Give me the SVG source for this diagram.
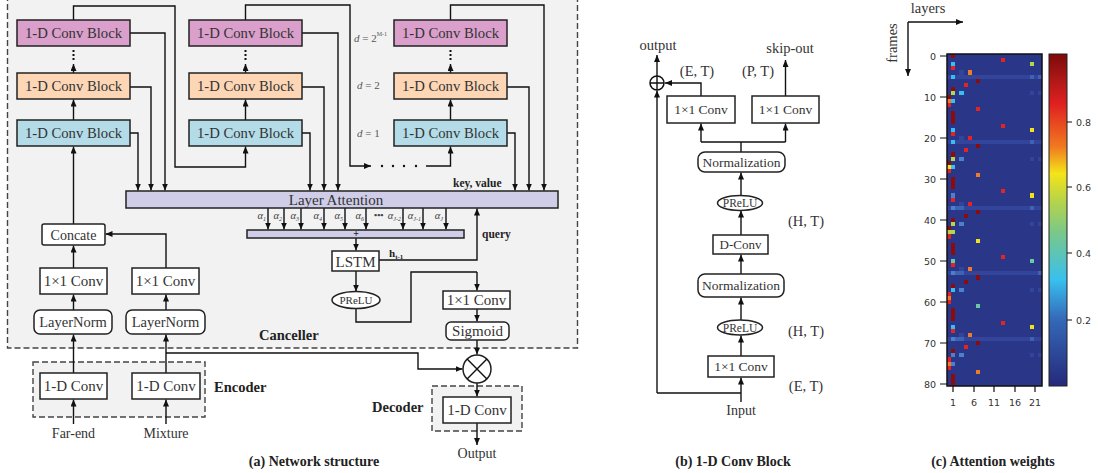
<svg xmlns="http://www.w3.org/2000/svg" width="1098" height="473" viewBox="0 0 1098 473">
<defs>
<marker id="ah" markerWidth="8" markerHeight="8" refX="7" refY="3" orient="auto" markerUnits="userSpaceOnUse"><path d="M0,0 L7,3 L0,6 z" fill="#111"/></marker>
<linearGradient id="cb" x1="0" y1="0" x2="0" y2="1">
<stop offset="0" stop-color="#7d0a0a"/><stop offset="0.08" stop-color="#b01818"/><stop offset="0.15" stop-color="#e02020"/><stop offset="0.28" stop-color="#f07a20"/><stop offset="0.36" stop-color="#f4e418"/><stop offset="0.44" stop-color="#b8d448"/><stop offset="0.54" stop-color="#78c88a"/><stop offset="0.68" stop-color="#38c0ee"/><stop offset="0.80" stop-color="#3468b8"/><stop offset="1" stop-color="#26297a"/>
</linearGradient>
</defs>
<style>
.t{font-family:"Liberation Serif","Times New Roman",serif;fill:#333}
.b{font-family:"Liberation Serif","Times New Roman",serif;font-weight:bold;fill:#222}
.m{font-family:"DejaVu Sans",sans-serif;font-size:9.5px;fill:#333}
.box{stroke:#222;stroke-width:1.5}
.dash{fill:#f2f2f2;stroke:#444;stroke-width:1.4;stroke-dasharray:6 3}
.w{fill:#fff;stroke:#222;stroke-width:1.5}
.ln{fill:none;stroke:#111;stroke-width:1.4}
.ar{fill:none;stroke:#111;stroke-width:1.4;marker-end:url(#ah)}
.pk{fill:#da9fcb}.pc{fill:#fdd6b6}.bl{fill:#b3dce8}.la{fill:#cfcde8}
.cb{font-size:14.7px}
</style>
<rect id="canceller" x="7.5" y="-10" width="570" height="358" class="dash"/>
<rect id="encoder" x="33" y="362" width="172" height="55" class="dash"/>
<rect id="decoder" x="432" y="386" width="90" height="45" class="dash"/>

<g id="connectors">
<path class="ar" d="M73.5,120 V99.5"/><path class="ar" d="M73.5,73 V64"/>
<path class="ar" d="M245.5,120 V99.5"/><path class="ar" d="M245.5,73 V64"/>
<path class="ar" d="M450.5,120 V99.5"/><path class="ar" d="M450.5,73 V64"/>
<path d="M73.5,50 V61 M245.5,50 V61 M450.5,50 V61" stroke="#111" stroke-width="2" stroke-dasharray="2 2"/>
<path class="ar" d="M73.5,20 V6 H175 V167 H245.5 V146.5"/>
<path class="ar" d="M245.5,20 V5 H350 V166 H371"/>
<path class="ar" d="M426,166 H450.5 V146.5"/>
<path class="ar" d="M450.5,20 V5 H544 V190.5"/>
<path class="ar" d="M130,133 H138 V190.5"/>
<path class="ar" d="M130,87 H151 V190.5"/>
<path class="ar" d="M130,33 H165 V190.5"/>
<path class="ar" d="M302,133 H310 V190.5"/>
<path class="ar" d="M302,87 H324 V190.5"/>
<path class="ar" d="M302,33 H338 V190.5"/>
<path class="ar" d="M507,133 H515 V190.5"/>
<path class="ar" d="M507,87 H529 V190.5"/>
<path class="ar" d="M268,208 V229.5"/><path class="ar" d="M284,208 V229.5"/><path class="ar" d="M301,208 V229.5"/><path class="ar" d="M324,208 V229.5"/><path class="ar" d="M345,208 V229.5"/><path class="ar" d="M366,208 V229.5"/><path class="ar" d="M403,208 V229.5"/><path class="ar" d="M423,208 V229.5"/><path class="ar" d="M446,208 V229.5"/>
<path class="ar" d="M356,238 V250.5"/>
<path class="ar" d="M379,260 H477 V208.5"/>
<path class="ar" d="M356,271 V291.5"/>
<path class="ln" d="M356,308 V322 H411 V272 H477"/>
<path class="ar" d="M477,272 V290.5"/>
<path class="ar" d="M477,309 V321.5"/>
<path class="ar" d="M477,340 V354.5"/>
<path class="ar" d="M73.5,224 V146.5"/>
<path class="ar" d="M73.5,268 V245.5"/>
<path class="ar" d="M73.5,310 V294.5"/>
<path class="ar" d="M73.5,373 V334.5"/>
<path class="ar" d="M73.5,424 V399.5"/>
<path class="ar" d="M166,268 V234 H105.5"/>
<path class="ar" d="M166,310 V294.5"/>
<path class="ar" d="M166,373 V334.5"/>
<path class="ar" d="M166,424 V399.5"/>
<path class="ar" d="M166,353 H418 V369 H462.5"/>
<path class="ar" d="M477,383 V396.5"/>
<path class="ar" d="M477,423 V445"/>
<path class="ar" d="M741,402 V377.5"/>
<path class="ln" d="M741,393 H657"/>
<path class="ar" d="M657,393 V90.5"/>
<path class="ar" d="M741,356 V335.5"/>
<path class="ar" d="M741,320 V297.5"/>
<path class="ar" d="M741,274 V254.5"/>
<path class="ar" d="M741,235 V210.5"/>
<path class="ar" d="M741,196 V172.5"/>
<path class="ln" d="M741,152 V142 H701 M741,142 H785.5"/>
<path class="ar" d="M701,142 V123.5"/>
<path class="ar" d="M785.5,142 V123.5"/>
<path class="ar" d="M701,96 V83 H665"/>
<path class="ar" d="M785.5,96 V60"/>
<path class="ar" d="M657,76 V55"/>
<path class="ar" d="M908,22 H963"/>
<path class="ar" d="M908,22 V76"/>
</g>
<g id="ellipsis-dots" fill="#111"><circle cx="382" cy="166" r="1.2"/><circle cx="393" cy="166" r="1.2"/><circle cx="404" cy="166" r="1.2"/><circle cx="416" cy="166" r="1.2"/></g>

<g id="c1-pink"><rect x="17" y="20" width="113" height="26" class="box pk"/><text x="73.5" y="38" text-anchor="middle" class="t cb">1-D Conv Block</text></g>
<g id="c1-peach"><rect x="17" y="73" width="113" height="26" class="box pc"/><text x="73.5" y="91" text-anchor="middle" class="t cb">1-D Conv Block</text></g>
<g id="c1-blue"><rect x="17" y="120" width="113" height="26" class="box bl"/><text x="73.5" y="138" text-anchor="middle" class="t cb">1-D Conv Block</text></g>
<g id="c2-pink"><rect x="189" y="20" width="113" height="26" class="box pk"/><text x="245.5" y="38" text-anchor="middle" class="t cb">1-D Conv Block</text></g>
<g id="c2-peach"><rect x="189" y="73" width="113" height="26" class="box pc"/><text x="245.5" y="91" text-anchor="middle" class="t cb">1-D Conv Block</text></g>
<g id="c2-blue"><rect x="189" y="120" width="113" height="26" class="box bl"/><text x="245.5" y="138" text-anchor="middle" class="t cb">1-D Conv Block</text></g>
<g id="c3-pink"><rect x="394" y="20" width="113" height="26" class="box pk"/><text x="450.5" y="38" text-anchor="middle" class="t cb">1-D Conv Block</text></g>
<g id="c3-peach"><rect x="394" y="73" width="113" height="26" class="box pc"/><text x="450.5" y="91" text-anchor="middle" class="t cb">1-D Conv Block</text></g>
<g id="c3-blue"><rect x="394" y="120" width="113" height="26" class="box bl"/><text x="450.5" y="138" text-anchor="middle" class="t cb">1-D Conv Block</text></g>
<g id="dilations" class="t" font-size="11">
<text x="354" y="42" style="fill:#555"><tspan font-style="italic">d</tspan> = 2<tspan font-size="6" dy="-6">M-1</tspan></text>
<text x="357" y="89" style="fill:#555"><tspan font-style="italic">d</tspan> = 2</text>
<text x="357" y="137" style="fill:#555"><tspan font-style="italic">d</tspan> = 1</text>
</g>

<g id="layer-attention"><rect x="126" y="191" width="432" height="17" class="box la"/><text x="336" y="205" text-anchor="middle" class="t" font-size="15">Layer Attention</text></g>
<text x="453" y="187" class="b" font-size="11.5">key, value</text>
<g id="alpha-sum"><rect x="247" y="230" width="217" height="8" class="box la"/><text x="356" y="237" text-anchor="middle" class="b" font-size="10">+</text></g>
<g id="alphas" class="t" font-size="10.5" font-style="italic" style="fill:#444">
<text x="266" y="219" text-anchor="end">α<tspan font-size="6" dy="1.5">1</tspan></text>
<text x="282" y="219" text-anchor="end">α<tspan font-size="6" dy="1.5">2</tspan></text>
<text x="299" y="219" text-anchor="end">α<tspan font-size="6" dy="1.5">3</tspan></text>
<text x="322" y="219" text-anchor="end">α<tspan font-size="6" dy="1.5">4</tspan></text>
<text x="343" y="219" text-anchor="end">α<tspan font-size="6" dy="1.5">5</tspan></text>
<text x="364" y="219" text-anchor="end">α<tspan font-size="6" dy="1.5">6</tspan></text>
<text x="374" y="218" font-style="normal" font-weight="bold" font-size="9">•••</text>
<text x="401" y="219" text-anchor="end">α<tspan font-size="6" dy="1.5">J-2</tspan></text>
<text x="421" y="219" text-anchor="end">α<tspan font-size="6" dy="1.5">J-1</tspan></text>
<text x="443" y="219" text-anchor="end">α<tspan font-size="6" dy="1.5">J</tspan></text>
</g>
<text x="482" y="238" class="b" font-size="11.5">query</text>
<g id="lstm"><rect x="332" y="251" width="47" height="20" class="w"/><text x="355.5" y="266.5" text-anchor="middle" class="t" font-size="15">LSTM</text></g>
<text x="389" y="257" class="b" font-size="11">h<tspan font-size="7" dy="1.5">t-1</tspan></text>
<g id="prelu-a"><ellipse cx="356" cy="300" rx="24" ry="8.5" class="w"/><text x="356" y="304" text-anchor="middle" class="t" font-size="11">PReLU</text></g>
<g id="conv-mask"><rect x="443" y="291" width="67" height="18" class="w"/><text x="476.5" y="305" text-anchor="middle" class="t" font-size="15">1×1 Conv</text></g>
<g id="sigmoid"><rect x="446" y="322" width="63" height="18" rx="5" class="w"/><text x="477.5" y="336" text-anchor="middle" class="t" font-size="15">Sigmoid</text></g>
<g id="concate"><rect x="42" y="224" width="63" height="21" rx="2" class="w"/><text x="73.5" y="239.5" text-anchor="middle" class="t" font-size="14">Concate</text></g>
<g id="conv1-l"><rect x="40" y="268" width="67" height="26" class="w"/><text x="73.5" y="286" text-anchor="middle" class="t" font-size="15">1×1 Conv</text></g>
<g id="conv1-r"><rect x="132" y="268" width="67" height="26" class="w"/><text x="165.5" y="286" text-anchor="middle" class="t" font-size="15">1×1 Conv</text></g>
<g id="ln-l"><rect x="34" y="310" width="78" height="24" rx="6" class="w"/><text x="73" y="327" text-anchor="middle" class="t" font-size="14.5">LayerNorm</text></g>
<g id="ln-r"><rect x="126" y="310" width="79" height="24" rx="6" class="w"/><text x="165.5" y="327" text-anchor="middle" class="t" font-size="14.5">LayerNorm</text></g>
<text x="259" y="340" class="b" font-size="14.5">Canceller</text>
<g id="enc-l"><rect x="40" y="373" width="67" height="26" class="w"/><text x="73.5" y="391" text-anchor="middle" class="t" font-size="15">1-D Conv</text></g>
<g id="enc-r"><rect x="132" y="373" width="68" height="26" class="w"/><text x="166" y="391" text-anchor="middle" class="t" font-size="15">1-D Conv</text></g>
<text x="214" y="392" class="b" font-size="14.5">Encoder</text>
<text x="73.5" y="438" text-anchor="middle" class="t" font-size="14">Far-end</text>
<text x="166" y="438" text-anchor="middle" class="t" font-size="14">Mixture</text>
<g id="multiply"><circle cx="477" cy="369" r="14" class="w"/><path class="ln" d="M467.1,359.1 L486.9,378.9 M486.9,359.1 L467.1,378.9"/></g>
<text x="372" y="412" class="b" font-size="14.5">Decoder</text>
<g id="dec"><rect x="443" y="397" width="68" height="26" class="w"/><text x="477" y="415" text-anchor="middle" class="t" font-size="15">1-D Conv</text></g>
<text x="477" y="458" text-anchor="middle" class="t" font-size="14">Output</text>
<text x="314" y="466" text-anchor="middle" class="b" font-size="14">(a) Network structure</text>

<g id="b-plus"><circle cx="657" cy="83" r="7" fill="#fff" stroke="#111" stroke-width="1.5"/><path d="M650,83 H664 M657,76 V90" stroke="#111" stroke-width="1.4"/></g>
<text x="658" y="50" text-anchor="middle" class="t" font-size="14.5">output</text>
<text x="790" y="53" text-anchor="middle" class="t" font-size="14.5">skip-out</text>
<text x="697" y="76" text-anchor="middle" class="t" font-size="14.5">(E, T)</text>
<text x="758" y="76" text-anchor="middle" class="t" font-size="14.5">(P, T)</text>
<g id="b-conv-l"><rect x="667" y="96" width="68" height="27" class="w"/><text x="701" y="114" text-anchor="middle" class="t" font-size="13.5">1×1 Conv</text></g>
<g id="b-conv-r"><rect x="752" y="96" width="67" height="27" class="w"/><text x="785.5" y="114" text-anchor="middle" class="t" font-size="13.5">1×1 Conv</text></g>
<g id="b-norm1"><rect x="698" y="152" width="87" height="20" rx="7" class="w"/><text x="741.5" y="166.5" text-anchor="middle" class="t" font-size="13.5">Normalization</text></g>
<g id="b-prelu1"><ellipse cx="740" cy="203" rx="22.5" ry="7.5" class="w"/><text x="740" y="207" text-anchor="middle" class="t" font-size="11.5">PReLU</text></g>
<text x="806" y="226" text-anchor="middle" class="t" font-size="14.5">(H, T)</text>
<g id="b-dconv"><rect x="713" y="235" width="55" height="19" class="w"/><text x="740.5" y="249" text-anchor="middle" class="t" font-size="13">D-Conv</text></g>
<g id="b-norm2"><rect x="698" y="274" width="86" height="23" rx="7" class="w"/><text x="741" y="290" text-anchor="middle" class="t" font-size="13.5">Normalization</text></g>
<g id="b-prelu2"><ellipse cx="740" cy="327.5" rx="22.5" ry="7.5" class="w"/><text x="740" y="331.5" text-anchor="middle" class="t" font-size="11.5">PReLU</text></g>
<text x="806" y="336" text-anchor="middle" class="t" font-size="14.5">(H, T)</text>
<g id="b-conv-in"><rect x="708" y="356" width="66" height="21" class="w"/><text x="741" y="371" text-anchor="middle" class="t" font-size="13.5">1×1 Conv</text></g>
<text x="806" y="391" text-anchor="middle" class="t" font-size="14.5">(E, T)</text>
<text x="741" y="415" text-anchor="middle" class="t" font-size="14">Input</text>
<text x="733" y="466" text-anchor="middle" class="b" font-size="14">(b) 1-D Conv Block</text>

<text x="928" y="13" text-anchor="middle" class="t" font-size="14.5">layers</text>
<text transform="translate(897,43) rotate(-90)" text-anchor="middle" class="t" font-size="14.5">frames</text>
<g id="heatmap">
<rect x="947" y="54" width="95" height="332" fill="#2a3789"/>
<g transform="translate(947,54) scale(4.13,4.1)" shape-rendering="crispEdges">
<g fill="#32459a"><rect x="0" y="5" width="23" height="1"/><rect x="0" y="21" width="23" height="1"/><rect x="0" y="37" width="23" height="1"/><rect x="0" y="53" width="23" height="1"/><rect x="0" y="69" width="23" height="1"/>
<rect x="20" y="9" width="1" height="1"/><rect x="22" y="9" width="1" height="1"/><rect x="20" y="25" width="1" height="1"/><rect x="22" y="25" width="1" height="1"/><rect x="20" y="41" width="1" height="1"/><rect x="22" y="41" width="1" height="1"/><rect x="20" y="57" width="1" height="1"/><rect x="22" y="57" width="1" height="1"/><rect x="20" y="73" width="1" height="1"/><rect x="22" y="73" width="1" height="1"/>
<rect x="3" y="4" width="1" height="1"/><rect x="3" y="20" width="1" height="1"/><rect x="3" y="36" width="1" height="1"/><rect x="3" y="52" width="1" height="1"/><rect x="3" y="68" width="1" height="1"/></g>
<g fill="#3f62b4"><rect x="20" y="5" width="1" height="1"/><rect x="22" y="5" width="1" height="1"/><rect x="20" y="21" width="1" height="1"/><rect x="20" y="37" width="1" height="1"/><rect x="22" y="53" width="1" height="1"/><rect x="20" y="69" width="1" height="1"/><rect x="2" y="37" width="2" height="1"/><rect x="2" y="53" width="2" height="1"/><rect x="2" y="69" width="2" height="1"/></g>
<g fill="#8a0c0c"><rect x="1" y="0" width="1" height="1"/><rect x="7" y="6" width="1" height="1"/><rect x="1" y="8" width="1" height="1"/><rect x="0" y="10" width="1" height="1"/><rect x="1" y="14" width="1" height="3"/><rect x="7" y="22" width="1" height="1"/><rect x="1" y="24" width="1" height="1"/><rect x="0" y="26" width="1" height="1"/><rect x="1" y="30" width="1" height="3"/><rect x="7" y="38" width="1" height="1"/><rect x="4" y="39" width="1" height="1"/><rect x="1" y="40" width="1" height="1"/><rect x="0" y="42" width="1" height="1"/><rect x="1" y="46" width="1" height="3"/><rect x="7" y="54" width="1" height="1"/><rect x="4" y="55" width="1" height="1"/><rect x="1" y="56" width="1" height="1"/><rect x="1" y="62" width="1" height="3"/><rect x="7" y="70" width="1" height="1"/><rect x="1" y="72" width="1" height="1"/><rect x="1" y="78" width="1" height="3"/></g>
<g fill="#e62222"><rect x="13" y="1" width="1" height="1"/><rect x="1" y="3" width="1" height="1"/><rect x="4" y="7" width="1" height="1"/><rect x="0" y="12" width="1" height="1"/><rect x="7" y="13" width="1" height="1"/><rect x="13" y="17" width="1" height="1"/><rect x="1" y="19" width="1" height="1"/><rect x="5" y="20" width="1" height="1"/><rect x="4" y="23" width="1" height="1"/><rect x="0" y="28" width="1" height="1"/><rect x="13" y="33" width="1" height="1"/><rect x="1" y="35" width="1" height="1"/><rect x="5" y="36" width="1" height="1"/><rect x="0" y="44" width="1" height="1"/><rect x="13" y="49" width="1" height="1"/><rect x="1" y="51" width="1" height="1"/><rect x="0" y="58" width="1" height="1"/><rect x="0" y="60" width="1" height="1"/><rect x="13" y="65" width="1" height="1"/><rect x="1" y="67" width="1" height="1"/><rect x="4" y="71" width="1" height="1"/><rect x="0" y="74" width="1" height="1"/><rect x="0" y="76" width="1" height="1"/></g>
<g fill="#f07a28"><rect x="5" y="4" width="1" height="1"/><rect x="0" y="11" width="1" height="1"/><rect x="7" y="29" width="1" height="1"/><rect x="5" y="52" width="1" height="1"/><rect x="0" y="59" width="1" height="1"/><rect x="5" y="68" width="1" height="1"/><rect x="0" y="75" width="1" height="1"/><rect x="7" y="77" width="1" height="1"/></g>
<g fill="#f2e21c"><rect x="20" y="18" width="1" height="1"/><rect x="0" y="27" width="1" height="1"/><rect x="20" y="34" width="1" height="1"/><rect x="7" y="45" width="1" height="1"/><rect x="20" y="66" width="1" height="1"/></g>
<g fill="#b4d64a"><rect x="20" y="2" width="1" height="1"/><rect x="1" y="9" width="1" height="1"/><rect x="1" y="25" width="1" height="1"/><rect x="1" y="41" width="1" height="1"/><rect x="0" y="43" width="2" height="1"/></g>
<g fill="#6cc8a0"><rect x="20" y="50" width="1" height="1"/><rect x="1" y="50" width="1" height="1"/><rect x="7" y="61" width="1" height="1"/></g>
<g fill="#38bff0"><rect x="1" y="2" width="1" height="1"/><rect x="1" y="5" width="1" height="1"/><rect x="3" y="9" width="1" height="1"/><rect x="1" y="11" width="1" height="1"/><rect x="1" y="18" width="1" height="1"/><rect x="1" y="21" width="1" height="1"/><rect x="1" y="27" width="1" height="1"/><rect x="1" y="57" width="1" height="1"/><rect x="1" y="66" width="1" height="1"/></g>
<g fill="#4a80cc"><rect x="3" y="25" width="1" height="1"/><rect x="1" y="34" width="1" height="1"/><rect x="1" y="37" width="1" height="1"/><rect x="3" y="41" width="1" height="1"/><rect x="1" y="53" width="1" height="1"/><rect x="3" y="57" width="1" height="1"/><rect x="1" y="69" width="1" height="1"/><rect x="1" y="73" width="1" height="1"/><rect x="3" y="73" width="1" height="1"/><rect x="1" y="75" width="1" height="1"/></g>
</g>
<rect x="947" y="54" width="95" height="332" fill="none" stroke="#111" stroke-width="1.5"/>
</g>
<g id="yaxis" class="m" text-anchor="end">
<path d="M940,56 H947 M940,97 H947 M940,138 H947 M940,179 H947 M940,220 H947 M940,261 H947 M940,302 H947 M940,343 H947 M940,384 H947" stroke="#111" stroke-width="1.2"/>
<text x="936" y="60">0</text><text x="936" y="101">10</text><text x="936" y="142">20</text><text x="936" y="183">30</text><text x="936" y="224">40</text><text x="936" y="265">50</text><text x="936" y="306">60</text><text x="936" y="347">70</text><text x="936" y="388">80</text>
</g>
<g id="xaxis" class="m" text-anchor="middle">
<path d="M953,386 V392 M974,386 V392 M994,386 V392 M1015,386 V392 M1035,386 V392" stroke="#111" stroke-width="1.2"/>
<text x="953" y="406">1</text><text x="974" y="406">6</text><text x="994" y="406">11</text><text x="1015" y="406">16</text><text x="1035" y="406">21</text>
</g>
<g id="colorbar">
<rect x="1049" y="54" width="18" height="332" fill="url(#cb)" stroke="#222" stroke-width="1"/>
<path d="M1067,122 H1072 M1067,187 H1072 M1067,253 H1072 M1067,320 H1072" stroke="#111" stroke-width="1.2"/>
<g class="m"><text x="1076" y="126">0.8</text><text x="1076" y="191">0.6</text><text x="1076" y="257">0.4</text><text x="1076" y="324">0.2</text></g>
</g>
<text x="993" y="466" text-anchor="middle" class="b" font-size="14">(c) Attention weights</text>
</svg>
